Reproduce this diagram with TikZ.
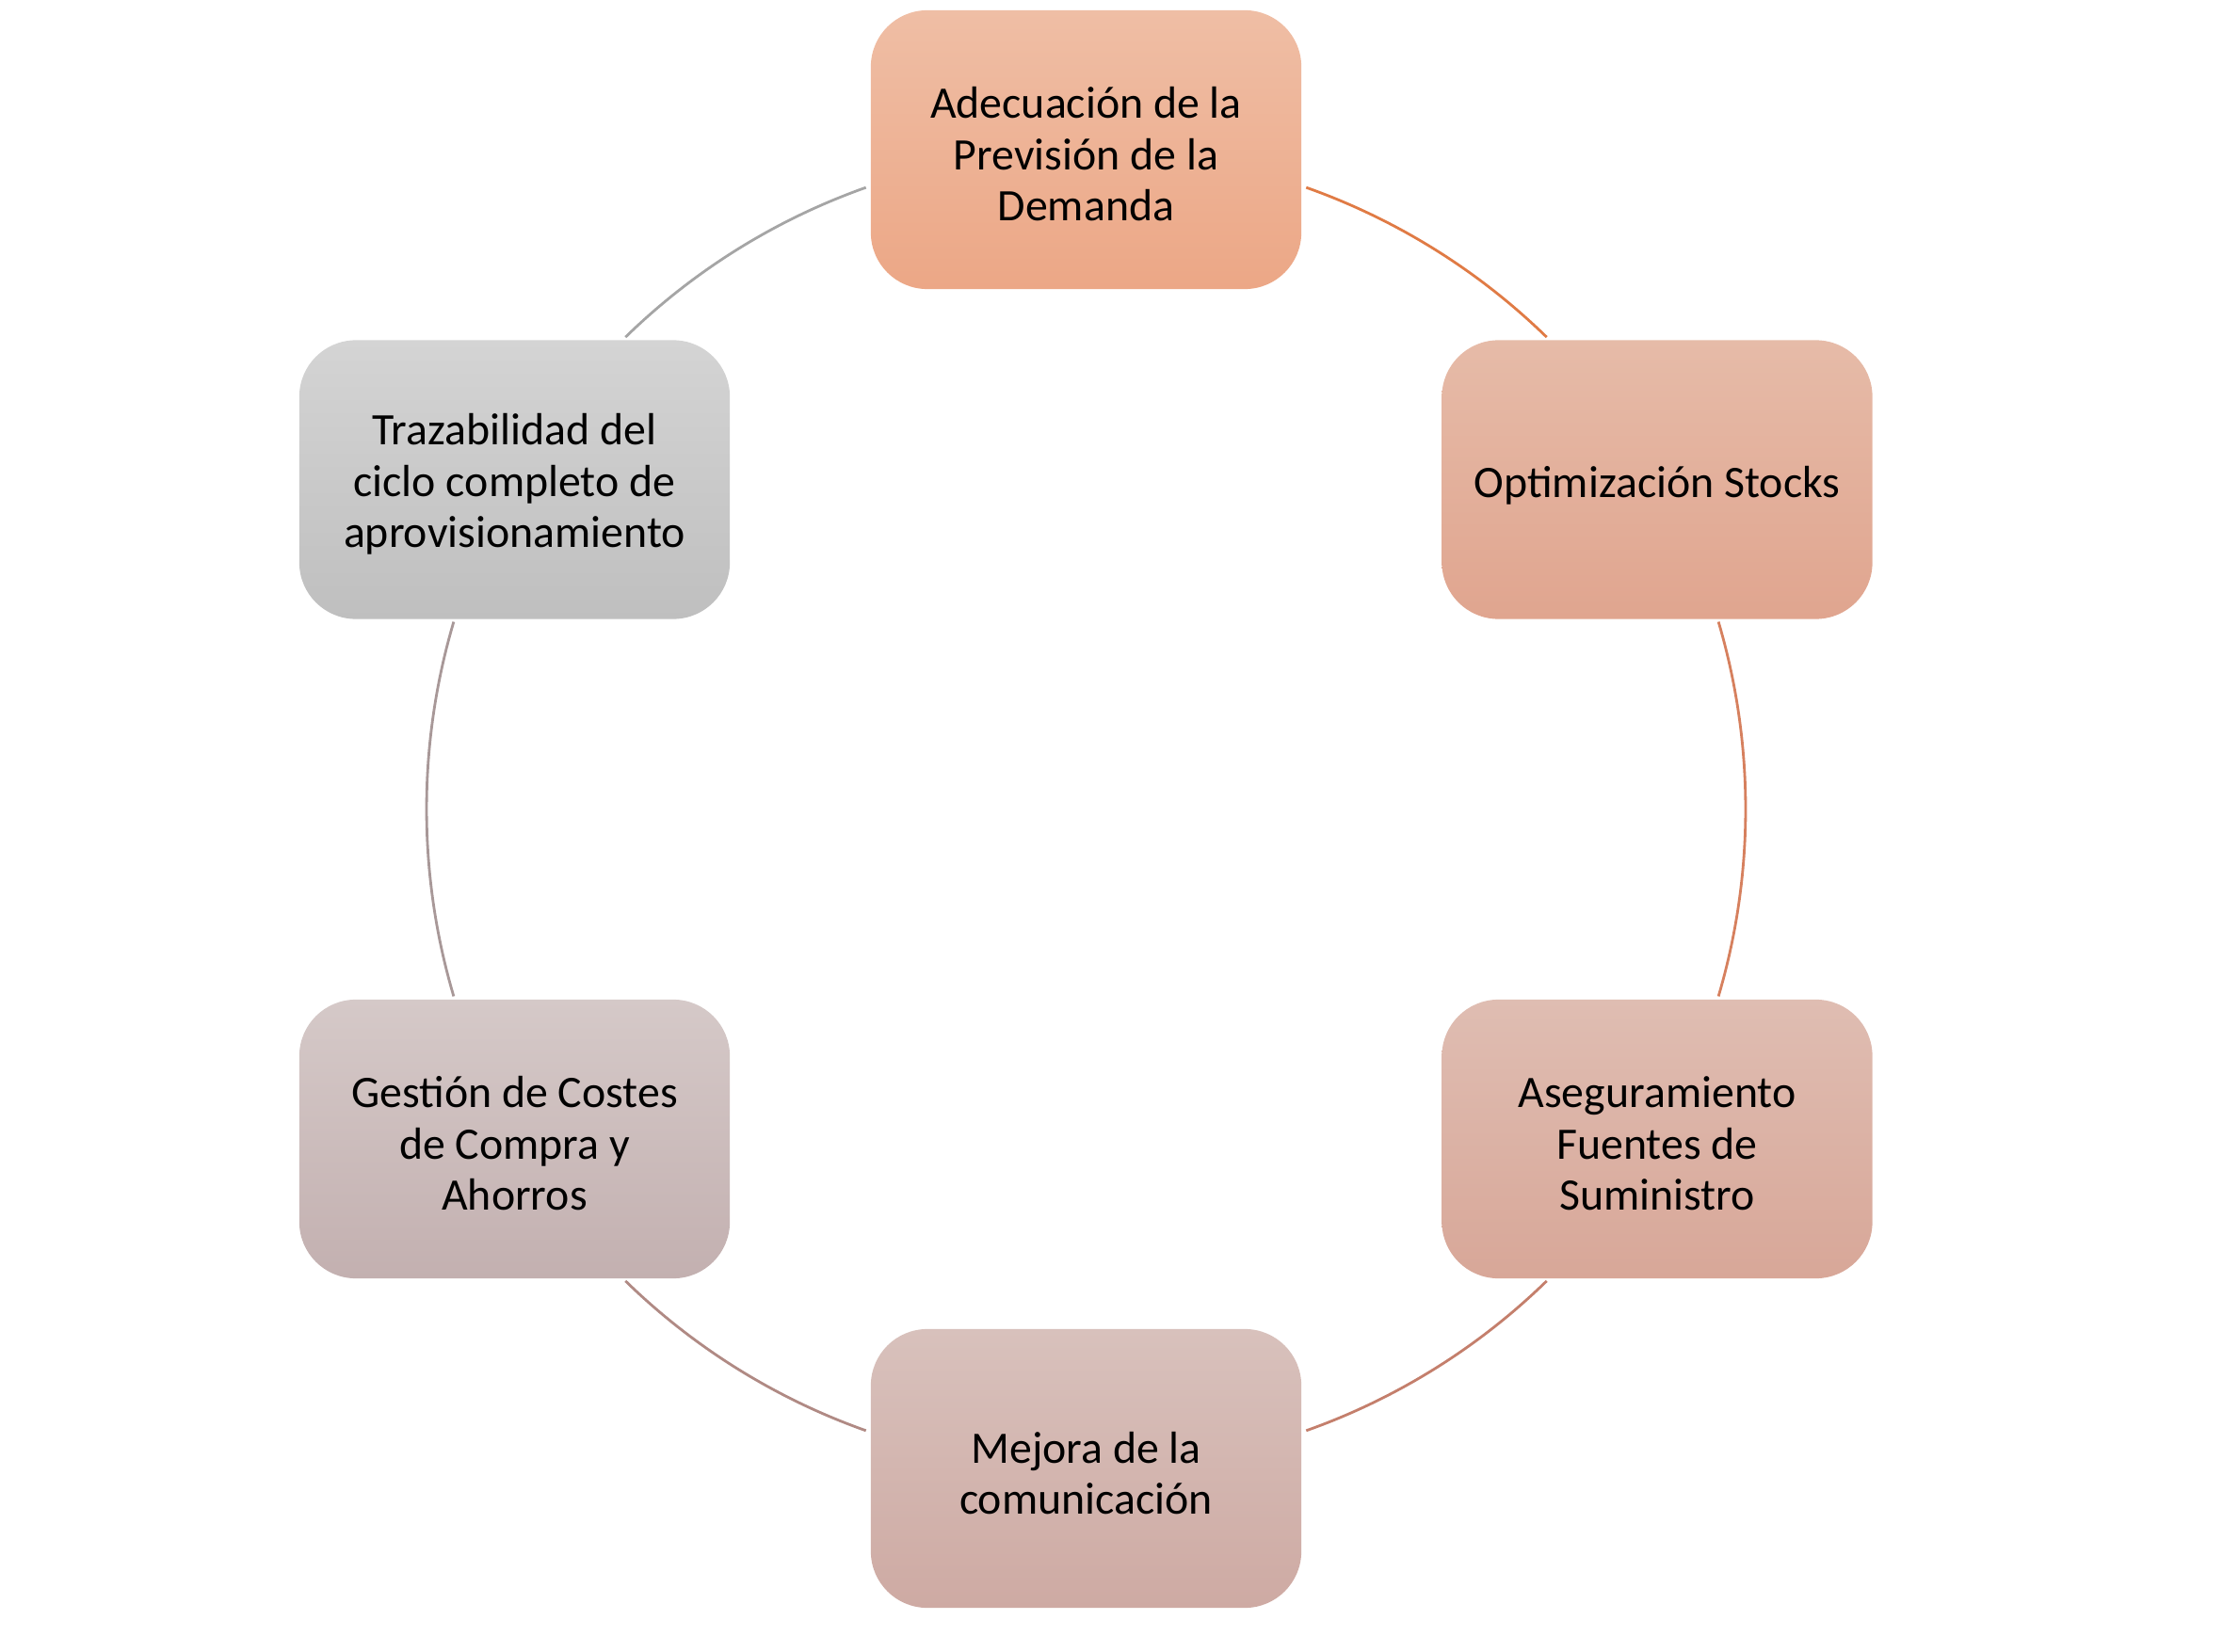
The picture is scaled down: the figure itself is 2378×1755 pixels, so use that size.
\documentclass[tikz,border=0pt]{standalone}
\usepackage{fontspec}
\setmainfont{Carlito}
\usetikzlibrary{calc}
\begin{document}
\begin{tikzpicture}[x=0.01cm,y=-0.01cm,
  box/.style={rounded corners=0.6cm, minimum width=4.57cm, minimum height=2.96cm, inner sep=0pt},
  txt/.style={align=center, inner sep=0pt, font=\fontsize{13.6}{15.5}\selectfont, text=black},
  link/.style={line width=0.8pt}]
\useasboundingbox (0,0) rectangle (2378,1755);
\definecolor{l1}{HTML}{E07B45}
\definecolor{l2}{HTML}{D6805E}
\definecolor{l3}{HTML}{C47F6C}
\definecolor{l4}{HTML}{B08A84}
\definecolor{l5}{HTML}{A89898}
\definecolor{l6}{HTML}{A5A5A5}
\coordinate (ctr) at (1153.5,859.5);
\node[box, top color={rgb,255:red,239;green,190;blue,165}, bottom color={rgb,255:red,236;green,167;blue,134}] (n1) at (1153.5,159) {};
\node[box, top color={rgb,255:red,230;green,187;blue,168}, bottom color={rgb,255:red,224;green,165;blue,143}] (n2) at (1760,509.5) {};
\node[box, top color={rgb,255:red,223;green,189;blue,178}, bottom color={rgb,255:red,216;green,167;blue,152}] (n3) at (1760,1210) {};
\node[box, top color={rgb,255:red,216;green,193;blue,188}, bottom color={rgb,255:red,206;green,170;blue,163}] (n4) at (1153.5,1560) {};
\node[box, top color={rgb,255:red,213;green,201;blue,200}, bottom color={rgb,255:red,195;green,176;blue,176}] (n5) at (546.5,1210) {};
\node[box, top color={rgb,255:red,212;green,212;blue,212}, bottom color={rgb,255:red,191;green,191;blue,191}] (n6) at (546.5,509.5) {};
\node[txt] (t1) at ($(n1.center)+(0,5)$) {Adecuación de la\\Previsión de la\\Demanda};
\node[txt] (t2) at ($(n2.center)+(0,6)$) {Optimización Stocks};
\node[txt] (t3) at ($(n3.center)+(0,5)$) {Aseguramiento\\Fuentes de\\Suministro};
\node[txt] (t4) at ($(n4.center)+(0,5)$) {Mejora de la\\comunicación};
\node[txt] (t5) at ($(n5.center)+(0,5)$) {Gestión de Costes\\de Compra y\\Ahorros};
\node[txt] (t6) at ($(n6.center)+(0,5)$) {Trazabilidad del\\ciclo completo de\\aprovisionamiento};
\coordinate (s1) at ($(ctr)+(-70.5:700.5)$);
\coordinate (s2) at ($(ctr)+(-16.5:700.5)$);
\coordinate (s3) at ($(ctr)+(45.7:700.5)$);
\coordinate (s4) at ($(ctr)+(109.5:700.5)$);
\coordinate (s5) at ($(ctr)+(163.5:700.5)$);
\coordinate (s6) at ($(ctr)+(225.7:700.5)$);
\draw[link, l1] (s1) arc[start angle=-70.5, end angle=-45.7, radius=700.5];
\draw[link, l2] (s2) arc[start angle=-16.5, end angle=16.5, radius=700.5];
\draw[link, l3] (s3) arc[start angle=45.7, end angle=70.5, radius=700.5];
\draw[link, l4] (s4) arc[start angle=109.5, end angle=134.3, radius=700.5];
\draw[link, l5] (s5) arc[start angle=163.5, end angle=196.5, radius=700.5];
\draw[link, l6] (s6) arc[start angle=225.7, end angle=250.5, radius=700.5];
\end{tikzpicture}
\end{document}
